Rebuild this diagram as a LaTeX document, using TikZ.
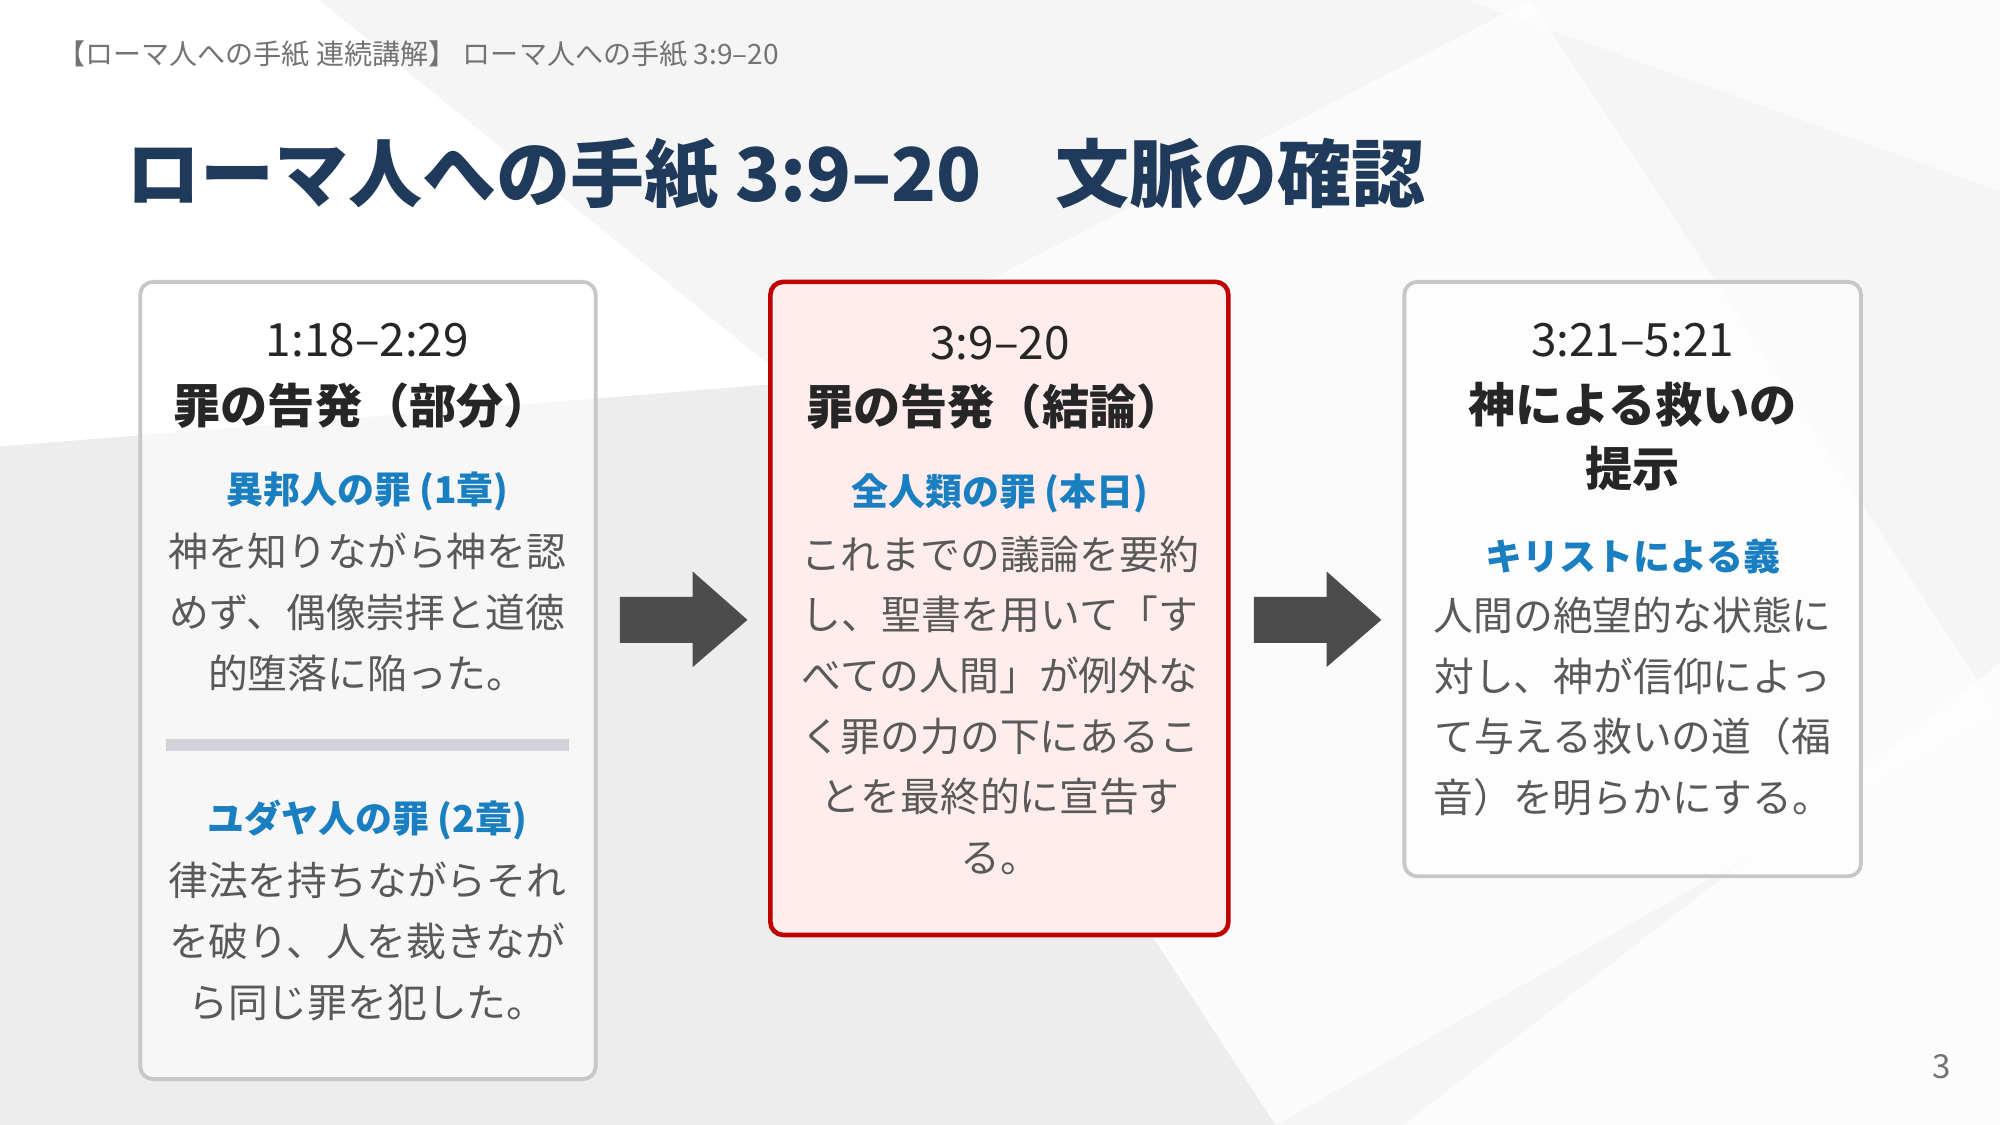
\documentclass[tikz,border=0pt]{standalone}
\usepackage{fontspec}
\setmainfont{Noto Sans CJK JP}
\begin{document}
\begin{tikzpicture}[x=0.5pt,y=-0.5pt,
 box/.style={draw=black!22,line width=1.5pt,rounded corners=5pt,fill=white,fill opacity=0.6,text opacity=1},
 num/.style={font=\fontsize{18}{20}\selectfont,text=black!85},
 ttl/.style={font=\fontsize{18.5}{25}\bfseries\selectfont,text=black!85,align=center},
 hd/.style={font=\fontsize{14.5}{18}\bfseries\selectfont,text=blue1},
 bd/.style={font=\fontsize{15.6}{23.8}\selectfont,text=black!65,align=center},
 arr/.style={fill=black!70}]
\definecolor{blue1}{HTML}{1A7FC0}
\definecolor{navy}{HTML}{1F3A5A}
\useasboundingbox (0,0) rectangle (1568,882);
\fill[black!4] (0,0) rectangle (1568,882);
\fill[black!7] (0,350) -- (620,300) -- (1000,882) -- (0,882) -- cycle;
\fill[white] (0,350) -- (620,300) -- (250,0) -- (0,0) -- cycle;
\fill[white,opacity=0.7] (1100,882) -- (1568,520) -- (1568,882) -- cycle;
\fill[black!2] (1150,0) -- (1568,0) -- (1568,150) -- cycle;
\fill[white,opacity=0.6] (620,300) -- (1200,0) -- (1568,560) -- (1000,882) -- cycle;
\node[anchor=west,font=\fontsize{11}{12}\selectfont,text=black!55] (hdr) at (38,42) {【ローマ人への手紙 連続講解】 ローマ人への手紙 3:9–20};
\node[anchor=west,font=\fontsize{29}{32}\bfseries\selectfont,text=navy] (title) at (92,137) {ローマ人への手紙 3:9–20\quad 文脈の確認};
% boxes
\draw[box] (110,221) rectangle (467,846);
\draw[draw=red!75!black,line width=1.8pt,rounded corners=5pt,fill=red!7] (604,221) rectangle (963,733);
\draw[box] (1101,221) rectangle (1459,687);
% left
\node[num] (l1) at (288,267) {1:18–2:29};
\node[ttl] (l2) at (284,318) {罪の告発（部分）};
\node[hd] (l3) at (288,385) {異邦人の罪 (1章)};
\node[bd] (l4) at (288,480) {神を知りながら神を認\\めず、偶像崇拝と道徳\\的堕落に陥った。};
\draw[line width=5pt,draw=blue!20!black!18] (130,584) -- (446,584);
\node[hd] (l5) at (288,643) {ユダヤ人の罪 (2章)};
\node[bd] (l6) at (288,738) {律法を持ちながらそれ\\を破り、人を裁きなが\\ら同じ罪を犯した。};
% middle
\node[num] (m1) at (784,269) {3:9–20};
\node[ttl] (m2) at (780,319) {罪の告発（結論）};
\node[hd] (m3) at (784,387) {全人類の罪 (本日)};
\node[bd] (m4) at (784,553) {これまでの議論を要約\\し、聖書を用いて「す\\べての人間」が例外な\\く罪の力の下にあるこ\\とを最終的に宣告す\\る。};
% right
\node[num] (r1) at (1280,267) {3:21–5:21};
\node[ttl] (r2) at (1280,342) {神による救いの\\提示};
\node[hd] (r3) at (1280,436) {キリストによる義};
\node[bd] (r4) at (1280,554) {人間の絶望的な状態に\\対し、神が信仰によっ\\て与える救いの道（福\\音）を明らかにする。};
% arrows
\fill[arr] (486,468) -- (543,468) -- (543,448) -- (586,486) -- (543,523) -- (543,504) -- (486,504) -- cycle;
\fill[arr] (983,468) -- (1040,468) -- (1040,448) -- (1083,486) -- (1040,523) -- (1040,504) -- (983,504) -- cycle;
\node[font=\fontsize{13}{15}\selectfont,text=black!55] (pg) at (1522,836) {3};
\end{tikzpicture}
\end{document}
